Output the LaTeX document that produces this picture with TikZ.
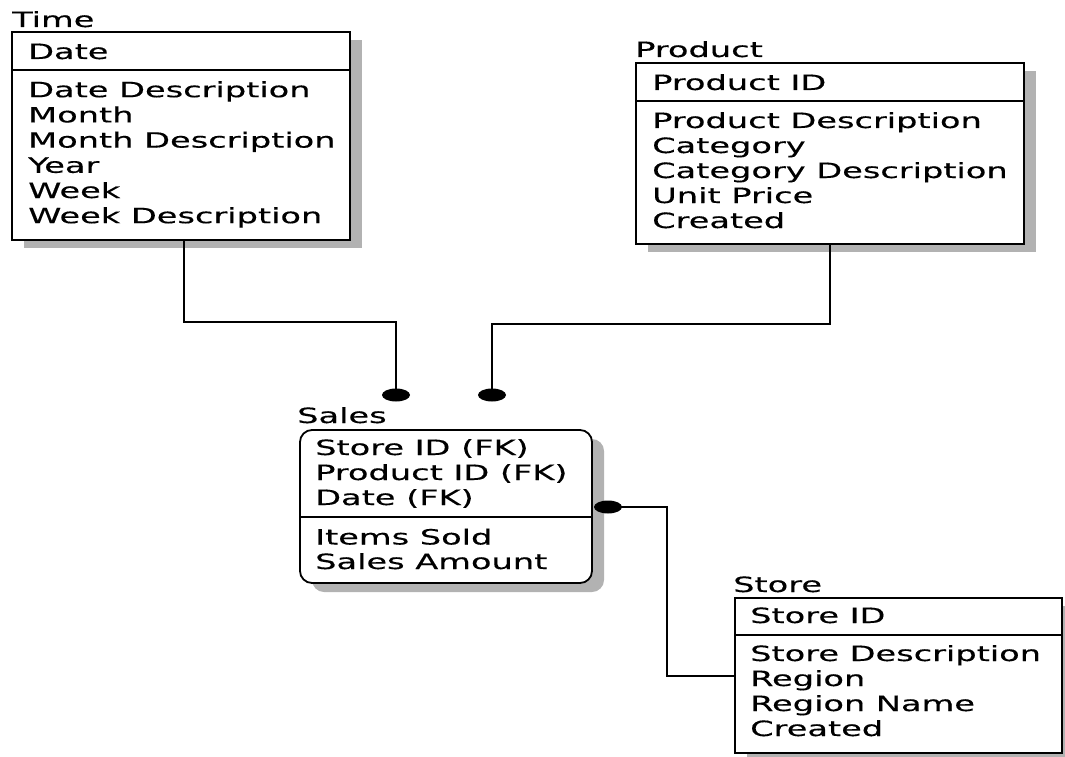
\documentclass[tikz,border=0pt]{standalone}
\usepackage{fontspec}
\setmainfont{DejaVu Sans}[FakeStretch=1.6,FakeBold=0.3]
\usetikzlibrary{shapes.geometric}
\begin{document}
\begin{tikzpicture}[x=1pt,y=-1pt,
  ent/.style={draw=black, line width=1.8pt, fill=white, anchor=north west, inner sep=0pt, outer sep=0pt},
  shadowfill/.style={fill=gray!60},
  txt/.style={anchor=base west, inner sep=0pt, font=\fontsize{21}{25}\selectfont},
  dotnode/.style={ellipse, fill=black, minimum width=28pt, minimum height=13pt, inner sep=0pt},
  conn/.style={line width=2pt},
  sepline/.style={line width=1.8pt}]
\useasboundingbox (0,0) rectangle (1065,757);

% ---------- Time ----------
\fill[shadowfill] (24,40) rectangle (362,248);
\node[ent, minimum width=338pt, minimum height=208pt] (time) at (12,32) {};
\draw[sepline] (12,70) -- (350,70);
\node[txt] (timelabel) at (12,27) {Time};
\node[txt] (timekey) at (28,59) {Date};
\foreach \t [count=\i] in {Date Description,Month,Month Description,Year,Week,Week Description}
  \node[txt] (ta\i) at (28,{72+25.2*\i}) {\t};

% ---------- Product ----------
\fill[shadowfill] (648,71) rectangle (1036,252);
\node[ent, minimum width=388pt, minimum height=181pt] (product) at (636,63) {};
\draw[sepline] (636,101) -- (1024,101);
\node[txt] (prodlabel) at (635,57) {Product};
\node[txt] (prodkey) at (652,90) {Product ID};
\foreach \t [count=\i] in {Product Description,Category,Category Description,Unit Price,Created}
  \node[txt] (pa\i) at (652,{103+25*\i}) {\t};

% ---------- Sales ----------
\fill[shadowfill, rounded corners=12pt] (312,439) rectangle (604,592);
\node[ent, rounded corners=12pt, minimum width=292pt, minimum height=153pt] (sales) at (300,430) {};
\draw[sepline] (300,517) -- (592,517);
\node[txt] (saleslabel) at (297,423) {Sales};
\foreach \t [count=\i] in {Store ID (FK),Product ID (FK),Date (FK)}
  \node[txt] (sk\i) at (315,{430+25*\i}) {\t};
\foreach \t [count=\i] in {Items Sold,Sales Amount}
  \node[txt] (sa\i) at (315,{520+24.5*\i}) {\t};

% ---------- Store ----------
\fill[shadowfill] (747,606) rectangle (1065,757);
\node[ent, minimum width=327pt, minimum height=155pt] (store) at (735,598) {};
\draw[sepline] (735,635) -- (1062,635);
\node[txt] (storelabel) at (733,592) {Store};
\node[txt] (storekey) at (750,623) {Store ID};
\foreach \t [count=\i] in {Store Description,Region,Region Name,Created}
  \node[txt] (sta\i) at (750,{636+25*\i}) {\t};

% ---------- Connectors ----------
\node[dotnode] (d1) at (396,395) {};
\node[dotnode] (d2) at (492,395) {};
\node[dotnode] (d3) at (608,507) {};
\coordinate (bend) at (667,507);

\draw[conn] (time.south) ++(3,0) coordinate (ts) -- ++(0,82) -| (d1.center);
\draw[conn] (product.south) -- ++(0,80) -| (d2.center);
\draw[conn] (d3.center) -- (bend) |- (store.west);
\end{tikzpicture}
\end{document}
